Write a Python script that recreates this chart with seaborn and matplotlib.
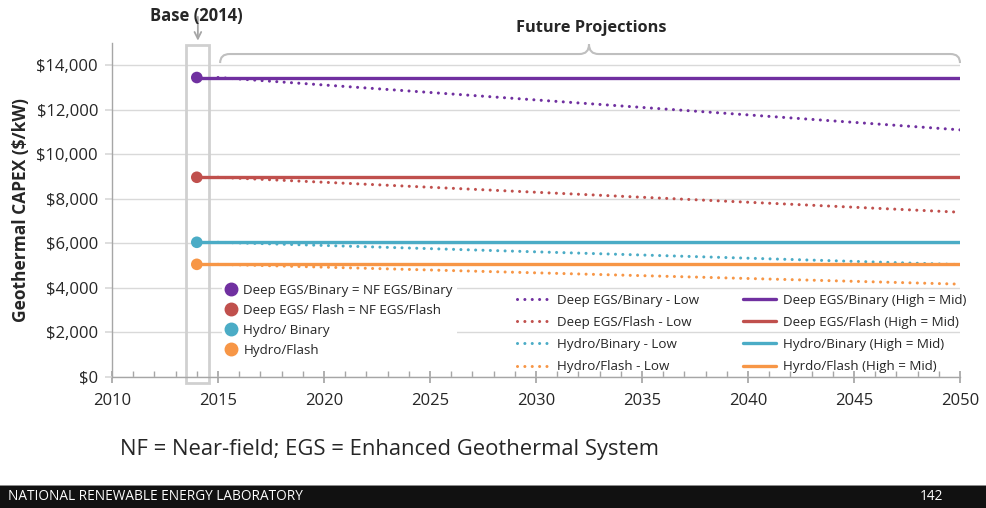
import matplotlib
matplotlib.use('Agg')
import matplotlib.pyplot as plt
import matplotlib.ticker as mticker
import matplotlib.transforms as mtransforms
from matplotlib.path import Path
from matplotlib.patches import PathPatch, Rectangle
from matplotlib.lines import Line2D
import seaborn as sns
import pandas as pd

# data
techs = ['Deep EGS/Binary', 'Deep EGS/Flash', 'Hydro/Binary', 'Hydro/Flash']
colors = ['#7030A0', '#C0504D', '#4BACC6', '#F79646']
base_year = 2014
low_start_year = 2015
end_year = 2050
base_2014 = [13450, 8970, 6050, 5060]
low_2050 = [11100, 7400, 5050, 4170]
marker_labels = ['Deep EGS/Binary = NF EGS/Binary', 'Deep EGS/ Flash = NF EGS/Flash',
                 'Hydro/ Binary', 'Hydro/Flash']
low_labels = ['Deep EGS/Binary - Low', 'Deep EGS/Flash - Low',
              'Hydro/Binary - Low', 'Hydro/Flash - Low']
mid_labels = ['Deep EGS/Binary (High = Mid)', 'Deep EGS/Flash (High = Mid)',
              'Hydro/Binary (High = Mid)', 'Hyrdo/Flash (High = Mid)']
y_ticks = [0, 2000, 4000, 6000, 8000, 10000, 12000, 14000]
x_ticks = [2010, 2015, 2020, 2025, 2030, 2035, 2040, 2045, 2050]

pal = dict(zip(techs, colors))
mid = pd.DataFrame({'tech': techs * 2,
                    'year': [base_year] * 4 + [end_year] * 4,
                    'capex': base_2014 * 2})
low = pd.DataFrame({'tech': techs * 2,
                    'year': [low_start_year] * 4 + [end_year] * 4,
                    'capex': base_2014 + low_2050})
base = pd.DataFrame({'tech': techs, 'year': [base_year] * 4, 'capex': base_2014})

sns.set_theme(style='white')
plt.rcParams['font.family'] = ['Open Sans', 'DejaVu Sans']

fig = plt.figure(figsize=(9.86, 5.08), dpi=100)
W, H = 986, 508
ax = fig.add_axes([112 / W, 1 - 377 / H, (960 - 112) / W, (377 - 43) / H])

dots = (0, (0.01, 2.4))
sns.lineplot(data=low, x='year', y='capex', hue='tech', palette=pal, lw=2.2,
             linestyle=dots, dash_capstyle='round', legend=False, ax=ax, zorder=3)
sns.lineplot(data=mid, x='year', y='capex', hue='tech', palette=pal, lw=2.4,
             legend=False, ax=ax, zorder=4)
sns.scatterplot(data=base, x='year', y='capex', hue='tech', palette=pal, s=70,
                linewidth=0, legend=False, ax=ax, zorder=5)

ax.set_xlim(2010, 2050)
ax.set_ylim(0, 15000)
ax.set_xticks(x_ticks)
ax.xaxis.set_minor_locator(mticker.MultipleLocator(1))
ax.set_yticks(y_ticks)
ax.yaxis.set_major_formatter(mticker.FuncFormatter(lambda v, p: '${:,.0f}'.format(v)))
ax.grid(axis='y', color='#D9D9D9', lw=1)
ax.set_axisbelow(True)
for s in ['top', 'right']:
    ax.spines[s].set_visible(False)
for s in ['left', 'bottom']:
    ax.spines[s].set_color('#A6A6A6')
    ax.spines[s].set_linewidth(1)
ax.tick_params(axis='x', which='major', direction='inout', length=9, color='#A6A6A6',
               labelsize=12, pad=7, bottom=True)
ax.tick_params(axis='x', which='minor', direction='in', length=4, color='#A6A6A6', bottom=True)
ax.tick_params(axis='y', which='major', direction='out', length=5, color='#D9D9D9',
               labelsize=12, pad=5, left=True)
ax.set_xlabel('')
ax.set_ylabel('Geothermal CAPEX ($/kW)', fontsize=12.5, fontweight='bold', labelpad=5)

# base-year box and arrow
ax.add_patch(Rectangle((2013.5, -270), 1.08, 15170, fill=False, edgecolor='#D0D0D0',
                       lw=2, clip_on=False, zorder=2))
ax.annotate('', xy=(2014.05, 14980), xytext=(2014.05, 16300), xycoords='data',
            arrowprops=dict(arrowstyle='->', color='#A6A6A6', lw=1.3), annotation_clip=False)
fig.text(196 / W, 1 - 16 / H, 'Base (2014)', ha='center', va='center',
         fontsize=12, fontweight='bold')

# future projections brace
tr = mtransforms.blended_transform_factory(ax.transData, ax.transAxes)
yl, yh, yc = 0.940, 0.967, 0.996
x0, x1, xm, r = 2015.1, 2050.0, 2032.5, 0.45
verts = [(x0, yl), (x0, yh), (x0 + r, yh), (xm - r, yh), (xm, yh), (xm, yc),
         (xm, yh), (xm + r, yh), (x1 - r, yh), (x1, yh), (x1, yl)]
codes = [Path.MOVETO, Path.CURVE3, Path.CURVE3, Path.LINETO, Path.CURVE3, Path.CURVE3,
         Path.CURVE3, Path.CURVE3, Path.LINETO, Path.CURVE3, Path.CURVE3]
ax.add_patch(PathPatch(Path(verts, codes), fill=False, edgecolor='#BFBFBF', lw=1.5,
                       transform=tr, clip_on=False))
fig.text(591 / W, 1 - 28 / H, 'Future Projections', ha='center', va='center',
         fontsize=11.8, fontweight='bold')

# legends
h1 = [Line2D([], [], marker='o', ls='', color=c, markersize=9) for c in colors]
leg1 = fig.legend(h1, marker_labels, loc='upper left', bbox_to_anchor=(222 / W, 1 - 280 / H),
                  frameon=True, facecolor='white', edgecolor='none', framealpha=1,
                  fontsize=9.6, handlelength=0.8, handletextpad=0.5, labelspacing=0.52,
                  borderaxespad=0, borderpad=0.3)
h_low = [Line2D([], [], color=c, lw=2.2, ls=dots, dash_capstyle='round') for c in colors]
h_mid = [Line2D([], [], color=c, lw=2.4) for c in colors]
leg2 = fig.legend(h_low + h_mid, low_labels + mid_labels, ncol=2, loc='upper left',
                  bbox_to_anchor=(513 / W, 1 - 290 / H), frameon=False, fontsize=9.6,
                  handlelength=2.5, handletextpad=0.5, labelspacing=0.68,
                  columnspacing=3.3, borderaxespad=0, borderpad=0.3)

# footnote and footer band
fig.text(120 / W, 1 - 450 / H, 'NF = Near-field; EGS = Enhanced Geothermal System',
         ha='left', va='center', fontsize=15.8,
         family=['Open Sans', 'DejaVu Sans'])
fig.patches.append(Rectangle((0, 0), 1, 22 / H, transform=fig.transFigure,
                             facecolor='#111111', edgecolor='none', zorder=0))
fig.patches.append(Rectangle((0, 22 / H), 1, 1.5 / H, transform=fig.transFigure,
                             facecolor='#8C8C8C', edgecolor='none', zorder=0))
fig.text(8 / W, 1 - 497 / H, 'NATIONAL RENEWABLE ENERGY LABORATORY', ha='left', va='center',
         fontsize=9.8, color='white', family=['Open Sans', 'DejaVu Sans'])
fig.text(931 / W, 1 - 497 / H, '142', ha='center', va='center', fontsize=9.8, color='white',
         family=['Open Sans', 'DejaVu Sans'])

fig.savefig('out.png', dpi=100)
